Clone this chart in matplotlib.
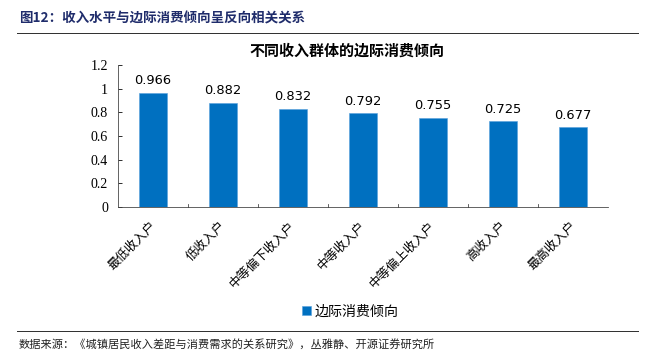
import matplotlib.pyplot as plt
from matplotlib.lines import Line2D

plt.rcParams['font.family'] = ['Noto Sans CJK SC', 'DejaVu Sans']

categories = ['最低收入户', '低收入户', '中等偏下收入户', '中等收入户',
              '中等偏上收入户', '高收入户', '最高收入户']
mpc = [0.966, 0.882, 0.832, 0.792, 0.755, 0.725, 0.677]
yticks = [0, 0.2, 0.4, 0.6, 0.8, 1.0, 1.2]
ytick_labels = ['0', '0.2', '0.4', '0.6', '0.8', '1', '1.2']

bar_color = '#0070C0'

fig = plt.figure(figsize=(9, 5), dpi=72)
ax = fig.add_axes([0.182, 0.425, 0.756, 0.394])

x = range(len(categories))
ax.bar(x, mpc, width=0.4, color=bar_color, edgecolor='#5BA3DC', linewidth=0.6,
       label='边际消费倾向')
for xi, v in zip(x, mpc):
    ax.text(xi, v + 0.045, f'{v:.3f}', ha='center', va='bottom',
            fontsize=13, family='DejaVu Sans')

ax.set_xlim(-0.5, len(categories) - 0.5)
ax.set_ylim(0, 1.2)
ax.set_yticks(yticks)
ax.set_yticklabels(ytick_labels, family='Liberation Serif', fontsize=14)
ax.tick_params(axis='y', direction='in', length=4, pad=10)

ax.set_xticks([i - 0.05 for i in x])
ax.set_xticklabels(categories, rotation=45, ha='right', rotation_mode='anchor',
                   fontsize=12.5, fontweight='light')
ax.tick_params(axis='x', length=0, pad=12)
for b in [i + 0.5 for i in range(len(categories) - 1)]:
    ax.plot([b, b], [0, 0.025], color='#404040', lw=0.8, clip_on=False)

for s in ['top', 'right']:
    ax.spines[s].set_visible(False)
ax.spines['left'].set_color('#404040')
ax.spines['bottom'].set_color('#404040')

ax.text(0.468, 1.045, '不同收入群体的边际消费倾向', transform=ax.transAxes,
        fontsize=15, fontweight='bold', ha='center', va='bottom')

ax.legend(loc='upper center', bbox_to_anchor=(0.475, -0.6), frameon=False,
          fontsize=14, handlelength=0.6, handleheight=0.6, handletextpad=0.3)

fig.text(0.03, 0.948, '图12：收入水平与边际消费倾向呈反向相关关系', fontsize=13.5,
         fontweight='bold', color='#1F2C6B', va='center')
fig.add_artist(Line2D([0.027, 0.985], [0.908, 0.908], color='#333333', lw=1))
fig.add_artist(Line2D([0.027, 0.985], [0.081, 0.081], color='#333333', lw=1))
fig.text(0.028, 0.04, '数据来源：《城镇居民收入差距与消费需求的关系研究》，丛雅静、开源证券研究所',
         fontsize=11.2, va='center', color='#222222')

fig.savefig('out.png', dpi=72)
